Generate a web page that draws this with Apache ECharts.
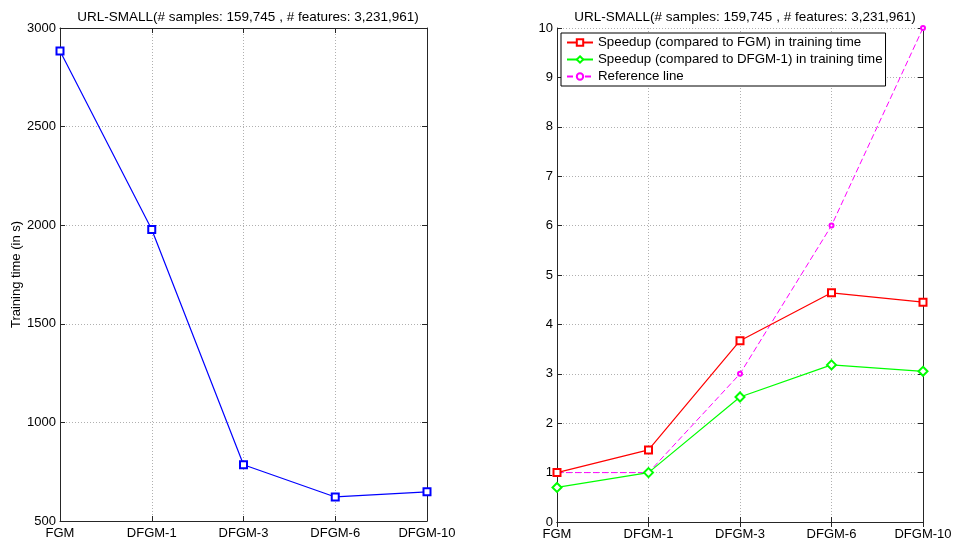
<!DOCTYPE html>
<html>
<head>
<meta charset="utf-8">
<script src="https://cdn.jsdelivr.net/npm/echarts@6/dist/echarts.min.js"></script>
<style>html,body{margin:0;padding:0;background:#fff;}#c{width:956px;height:547px;}</style>
</head>
<body>
<div id="c"></div>
<script>
var categories = ['FGM', 'DFGM-1', 'DFGM-3', 'DFGM-6', 'DFGM-10'];
var trainingTime = [2883, 1978, 785, 622, 648];
var speedupFGM = [1.0, 1.46, 3.67, 4.64, 4.45];
var speedupDFGM1 = [0.70, 1.0, 2.53, 3.18, 3.05];
var referenceLine = [1, 1, 3, 6, 10];
var titleText = 'URL-SMALL(# samples: 159,745 , # features: 3,231,961)';

var FONT = '"Liberation Sans", Arial, Helvetica, sans-serif';
var axisColor = '#262626';
var splitStyle = { show: true, lineStyle: { color: '#b0b0b0', type: [1, 2], width: 1 } };

function xBottom(gi) {
  return { type: 'category', gridIndex: gi, data: categories, boundaryGap: false, position: 'bottom',
    axisLine: { show: true, lineStyle: { color: axisColor } },
    axisTick: { show: true, inside: true, length: 5, lineStyle: { color: axisColor } },
    axisLabel: { color: '#000', fontFamily: FONT, fontSize: 13, margin: 6, interval: 0 },
    splitLine: splitStyle };
}
function xTop(gi) {
  return { type: 'category', gridIndex: gi, data: categories, boundaryGap: false, position: 'top',
    axisLine: { show: true, lineStyle: { color: axisColor } },
    axisTick: { show: true, inside: true, length: 5, lineStyle: { color: axisColor } },
    axisLabel: { show: false }, splitLine: { show: false } };
}
function yLeft(gi, min, max, interval, name) {
  return { type: 'value', gridIndex: gi, min: min, max: max, interval: interval, position: 'left',
    name: name || '', nameLocation: 'middle', nameGap: 36,
    nameTextStyle: { color: '#000', fontFamily: FONT, fontSize: 13 },
    axisLine: { show: true, lineStyle: { color: axisColor } },
    axisTick: { show: true, inside: true, length: 5, lineStyle: { color: axisColor } },
    axisLabel: { color: '#000', fontFamily: FONT, fontSize: 13, margin: 4,
      formatter: function (v) { return String(v); } },
    splitLine: splitStyle };
}
function yRight(gi, min, max, interval) {
  return { type: 'value', gridIndex: gi, min: min, max: max, interval: interval, position: 'right',
    axisLine: { show: true, lineStyle: { color: axisColor } },
    axisTick: { show: true, inside: true, length: 5, lineStyle: { color: axisColor } },
    axisLabel: { show: false }, splitLine: { show: false } };
}

var chart = echarts.init(document.getElementById('c'), null, { renderer: 'canvas' });
chart.setOption({
  backgroundColor: '#fff',
  animation: false,
  title: [
    { text: titleText, left: 243, top: 5, textAlign: 'center',
      textStyle: { fontFamily: FONT, fontSize: 13.5, fontWeight: 'normal', color: '#000' } },
    { text: titleText, left: 740, top: 5, textAlign: 'center',
      textStyle: { fontFamily: FONT, fontSize: 13.5, fontWeight: 'normal', color: '#000' } }
  ],
  grid: [
    { left: 60, right: 529, top: 28, bottom: 26, containLabel: false },
    { left: 557, right: 33, top: 28, bottom: 25, containLabel: false }
  ],
  legend: {
    orient: 'vertical', left: 561, top: 33,
    backgroundColor: '#fff', borderColor: '#000', borderWidth: 1, borderRadius: 0,
    padding: [1, 3, 1, 5], itemGap: 0, itemWidth: 26, itemHeight: 8,
    textStyle: { fontFamily: FONT, fontSize: 13.3, color: '#000', lineHeight: 17 },
    data: ['Speedup (compared to FGM) in training time', 'Speedup (compared to DFGM-1) in training time', 'Reference line']
  },
  xAxis: [xBottom(0), xTop(0), xBottom(1), xTop(1)],
  yAxis: [yLeft(0, 500, 3000, 500, 'Training time (in s)'), yRight(0, 500, 3000, 500),
          yLeft(1, 0, 10, 1), yRight(1, 0, 10, 1)],
  series: [
    { name: 'Training time', type: 'line', xAxisIndex: 0, yAxisIndex: 0, data: trainingTime,
      symbol: 'emptyRect', symbolSize: 7, color: '#0000ff',
      lineStyle: { color: '#0000ff', width: 1.2 }, itemStyle: { color: '#0000ff', borderWidth: 1.2 } },
    { name: 'Speedup (compared to FGM) in training time', type: 'line', xAxisIndex: 2, yAxisIndex: 2, data: speedupFGM,
      symbol: 'emptyRect', symbolSize: 7, color: '#ff0000', z: 4,
      lineStyle: { color: '#ff0000', width: 1.2 }, itemStyle: { color: '#ff0000', borderWidth: 1.2 } },
    { name: 'Speedup (compared to DFGM-1) in training time', type: 'line', xAxisIndex: 2, yAxisIndex: 2, data: speedupDFGM1,
      symbol: 'emptyDiamond', symbolSize: 9, color: '#00ff00', z: 3,
      lineStyle: { color: '#00ff00', width: 1.2 }, itemStyle: { color: '#00ff00', borderWidth: 1.2 } },
    { name: 'Reference line', type: 'line', xAxisIndex: 2, yAxisIndex: 2, data: referenceLine,
      symbol: 'emptyCircle', symbolSize: 4, color: '#ff00ff', z: 2,
      lineStyle: { color: '#ff00ff', width: 1, type: [6, 3] }, itemStyle: { color: '#ff00ff', borderWidth: 1 } }
  ]
});
</script>
</body>
</html>
